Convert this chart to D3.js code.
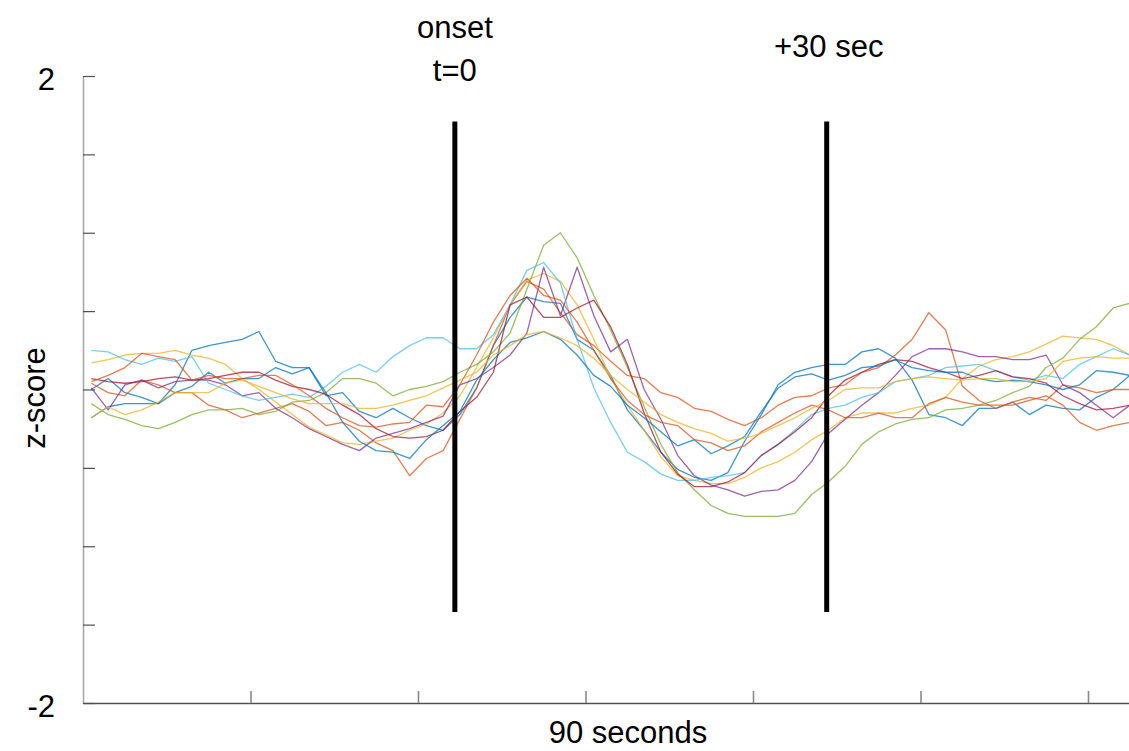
<!DOCTYPE html>
<html>
<head>
<meta charset="utf-8">
<script src="https://cdn.jsdelivr.net/npm/d3@7"></script>
<style>
  html, body { margin: 0; padding: 0; background: #fff; overflow: hidden; }
  svg { display: block; }
  text { font-family: "Liberation Sans", Arial, sans-serif; fill: #000; }
</style>
</head>
<body>
<script>
// ---------------- data ----------------
// sample index of every stored value (every second sample of the trace)
const sampleIndex = d3.range(1, 126, 2);

const seriesNames  = ["blue1","orange1","yellow1","purple","green","lightblue","darkred","blue2","orange2","yellow2"];
const seriesColors = ["#0072BD","#D95319","#EDB120","#7E2F8E","#77AC30","#4DBEEE","#A2142F","#0072BD","#D95319","#EDB120"];

const blue1 = [0.00,0.07,-0.02,-0.05,-0.09,0.03,0.25,0.28,0.30,0.32,0.37,0.18,0.14,0.14,-0.04,-0.02,-0.14,-0.18,-0.12,-0.18,-0.23,-0.26,-0.16,0.01,0.28,0.46,0.59,0.56,0.55,0.32,0.25,0.09,-0.13,-0.26,-0.40,-0.51,-0.56,-0.58,-0.53,-0.33,-0.16,0.03,0.11,0.14,0.16,0.16,0.24,0.26,0.20,0.06,-0.16,-0.18,-0.23,-0.12,-0.12,-0.08,-0.16,-0.10,-0.12,-0.13,-0.05,0.00,0.09];
const orange1 = [0.04,-0.02,-0.04,0.06,0.03,-0.02,-0.02,-0.10,-0.13,-0.18,-0.15,-0.12,-0.09,-0.14,-0.23,-0.21,-0.26,-0.34,-0.39,-0.55,-0.44,-0.39,-0.19,0.01,0.28,0.54,0.69,0.64,0.49,0.35,0.28,0.18,0.09,0.07,-0.02,-0.05,-0.12,-0.14,-0.19,-0.23,-0.18,-0.10,-0.05,-0.04,0.01,0.03,0.11,0.14,0.22,0.32,0.49,0.38,0.02,-0.07,-0.12,-0.08,-0.05,-0.07,0.03,0.01,-0.02,0.00,0.00];
const yellow1 = [0.17,0.19,0.22,0.23,0.23,0.25,0.22,0.20,0.16,0.07,0.00,-0.08,-0.16,-0.24,-0.29,-0.34,-0.35,-0.33,-0.31,-0.26,-0.22,-0.15,-0.04,0.14,0.33,0.54,0.70,0.74,0.69,0.54,0.32,0.07,-0.10,-0.26,-0.43,-0.55,-0.58,-0.60,-0.60,-0.56,-0.50,-0.46,-0.40,-0.32,-0.26,-0.18,-0.15,-0.15,-0.15,-0.12,-0.10,-0.05,0.07,0.15,0.19,0.21,0.24,0.29,0.34,0.33,0.32,0.28,0.22];
const purple = [0.01,-0.13,0.03,0.06,0.01,0.05,0.06,0.06,0.03,-0.04,-0.02,-0.12,-0.18,-0.25,-0.30,-0.35,-0.39,-0.31,-0.28,-0.25,-0.21,-0.17,0.03,0.07,0.14,0.22,0.36,0.78,0.47,0.78,0.47,0.24,0.32,0.00,-0.19,-0.42,-0.55,-0.61,-0.64,-0.68,-0.65,-0.64,-0.58,-0.46,-0.28,-0.19,-0.10,-0.02,0.09,0.21,0.26,0.26,0.24,0.21,0.21,0.19,0.19,0.22,0.03,-0.02,-0.10,-0.18,-0.10];
const green = [-0.09,-0.16,-0.19,-0.23,-0.25,-0.21,-0.16,-0.13,-0.13,-0.12,-0.16,-0.14,-0.08,-0.07,-0.02,0.07,0.07,0.04,-0.04,0.00,0.02,0.05,0.11,0.16,0.24,0.36,0.64,0.92,1.00,0.84,0.60,0.38,0.14,-0.11,-0.35,-0.53,-0.64,-0.74,-0.79,-0.81,-0.81,-0.81,-0.79,-0.67,-0.59,-0.49,-0.35,-0.27,-0.22,-0.19,-0.18,-0.13,-0.12,-0.10,-0.07,-0.02,0.02,0.14,0.20,0.32,0.40,0.52,0.55];
const lightblue = [0.25,0.24,0.19,0.16,0.20,0.18,0.21,0.04,0.00,-0.04,-0.07,-0.05,-0.03,-0.05,0.02,0.11,0.16,0.11,0.21,0.28,0.33,0.33,0.26,0.26,0.35,0.54,0.76,0.81,0.68,0.32,0.01,-0.21,-0.40,-0.46,-0.54,-0.58,-0.58,-0.56,-0.55,-0.53,-0.42,-0.35,-0.26,-0.16,-0.12,-0.10,-0.05,-0.02,0.05,0.07,0.09,0.14,0.15,0.16,0.12,0.08,0.06,0.09,0.07,0.16,0.21,0.26,0.22];
const darkred = [0.07,0.05,0.04,0.05,0.07,0.08,0.06,0.07,0.09,0.11,0.11,0.06,0.02,0.00,-0.03,-0.10,-0.16,-0.25,-0.30,-0.31,-0.30,-0.26,-0.14,-0.05,0.11,0.54,0.59,0.46,0.46,0.52,0.57,0.40,0.16,-0.15,-0.40,-0.54,-0.62,-0.62,-0.59,-0.53,-0.42,-0.35,-0.27,-0.18,-0.04,0.06,0.11,0.16,0.19,0.18,0.14,0.11,0.07,0.09,0.12,0.08,0.07,0.04,-0.04,-0.09,-0.13,-0.12,-0.10];
const blue2 = [-0.18,-0.11,-0.09,-0.09,-0.09,-0.02,0.02,0.11,0.04,0.07,0.07,0.14,0.10,0.14,-0.02,-0.21,-0.33,-0.39,-0.40,-0.44,-0.32,-0.23,-0.14,0.06,0.19,0.30,0.33,0.37,0.32,0.22,0.09,0.02,-0.10,-0.18,-0.27,-0.36,-0.32,-0.41,-0.36,-0.30,-0.14,0.01,0.08,0.10,0.06,0.09,0.14,0.15,0.19,0.14,0.12,0.11,0.11,0.07,0.05,0.06,0.05,0.03,0.00,0.03,0.12,0.11,0.09];
const orange2 = [0.05,0.09,0.14,0.23,0.21,0.19,0.06,0.09,0.07,0.07,0.09,0.09,0.03,-0.04,-0.12,-0.18,-0.23,-0.24,-0.22,-0.21,-0.10,-0.11,0.03,0.22,0.43,0.60,0.71,0.60,0.57,0.43,0.25,0.07,-0.07,-0.16,-0.21,-0.23,-0.32,-0.34,-0.39,-0.36,-0.27,-0.21,-0.15,-0.10,-0.13,-0.18,-0.18,-0.15,-0.18,-0.18,-0.09,-0.05,-0.08,-0.10,-0.10,-0.10,-0.07,-0.04,-0.10,-0.21,-0.26,-0.23,-0.21];
const yellow2 = [-0.18,-0.11,-0.16,-0.13,-0.08,-0.02,-0.02,-0.02,0.04,0.06,0.02,-0.02,-0.06,-0.09,-0.09,-0.09,-0.12,-0.12,-0.10,-0.07,-0.04,0.01,0.06,0.11,0.22,0.28,0.35,0.37,0.33,0.28,0.20,0.09,0.00,-0.08,-0.16,-0.21,-0.25,-0.28,-0.33,-0.31,-0.28,-0.23,-0.18,-0.12,-0.07,0.00,0.01,0.01,0.05,0.07,0.08,0.07,0.06,0.07,0.07,0.05,0.05,0.07,0.18,0.20,0.21,0.20,0.20];

const seriesValues = [blue1, orange1, yellow1, purple, green, lightblue, darkred, blue2, orange2, yellow2];

const xDomain = [0, 133];                 // samples
const yDomain = [-2, 2];                  // z-score
const xTickValues = [0, 20, 40, 60, 80, 100, 120];
const yTickValues = [-2, -1.5, -1, -0.5, 0, 0.5, 1, 1.5, 2];
const yTickLabels = { "2": "2", "-2": "-2" };
const eventSamples = [44.4, 88.8];
const eventSpan = [1.71, -1.42];
const eventLabels = [["onset", "t=0"], ["+30 sec"]];
const xTitle = "90 seconds";
const yTitle = "z-score";

// ---------------- drawing ----------------
const W = 1129, H = 751;
const svg = d3.select("body").append("svg").attr("width", W).attr("height", H);

const x = d3.scaleLinear().domain(xDomain).range([83, 83 + 133 * 8.375]);
const y = d3.scaleLinear().domain(yDomain).range([703, 76]);

// series
const line = d3.line().x(d => x(d[0])).y(d => y(d[1]));
const gLines = svg.append("g");
seriesValues.forEach((vals, k) => {
  const pts = vals.map((v, i) => [sampleIndex[i], v]);
  gLines.append("path")
    .datum(pts)
    .attr("fill", "none")
    .attr("stroke", seriesColors[k])
    .attr("stroke-width", 1.3)
    .attr("stroke-opacity", 0.75)
    .attr("stroke-linejoin", "round")
    .attr("d", line);
});

// axes
const yAxis = d3.axisLeft(y).tickValues(yTickValues)
  .tickSizeInner(-12).tickSizeOuter(0).tickPadding(28)
  .tickFormat(d => yTickLabels[String(d)] || "");
const gy = svg.append("g").attr("transform", "translate(83,0)").call(yAxis);
gy.select(".domain").attr("stroke", "#a8a8a8").attr("stroke-width", 1.6);
gy.selectAll(".tick line").attr("stroke", "#505050").attr("stroke-width", 1.2);
gy.selectAll(".tick text").attr("font-size", 31).attr("font-family", "'Liberation Sans', Arial, sans-serif").attr("fill", "#000").attr("dy", "0.45em");

const xAxis = d3.axisBottom(x).tickValues(xTickValues)
  .tickSizeInner(-12).tickSizeOuter(0).tickFormat("");
const gx = svg.append("g").attr("transform", "translate(0,703)").call(xAxis);
gx.select(".domain").attr("stroke", "#505050").attr("stroke-width", 1.6);
gx.selectAll(".tick line").attr("stroke", "#8a8a8a").attr("stroke-width", 1.6);
gx.selectAll(".tick").filter(d => d === 0).remove();

// event lines
eventSamples.forEach(s => {
  svg.append("line")
    .attr("x1", x(s)).attr("x2", x(s))
    .attr("y1", y(eventSpan[0])).attr("y2", y(eventSpan[1]))
    .attr("stroke", "#000").attr("stroke-width", 5);
});

// event labels
svg.append("text").attr("x", x(eventSamples[0])).attr("y", 38)
  .attr("text-anchor", "middle").attr("font-size", 31).text(eventLabels[0][0]);
svg.append("text").attr("x", x(eventSamples[0])).attr("y", 81)
  .attr("text-anchor", "middle").attr("font-size", 31).text(eventLabels[0][1]);
svg.append("text").attr("x", x(eventSamples[1]) + 2).attr("y", 57)
  .attr("text-anchor", "middle").attr("font-size", 31).text(eventLabels[1][0]);

// axis titles
svg.append("text").attr("x", 628).attr("y", 743)
  .attr("text-anchor", "middle").attr("font-size", 31).text(xTitle);
svg.append("text").attr("transform", "translate(45,398) rotate(-90)")
  .attr("text-anchor", "middle").attr("font-size", 31).text(yTitle);
</script>
</body>
</html>
